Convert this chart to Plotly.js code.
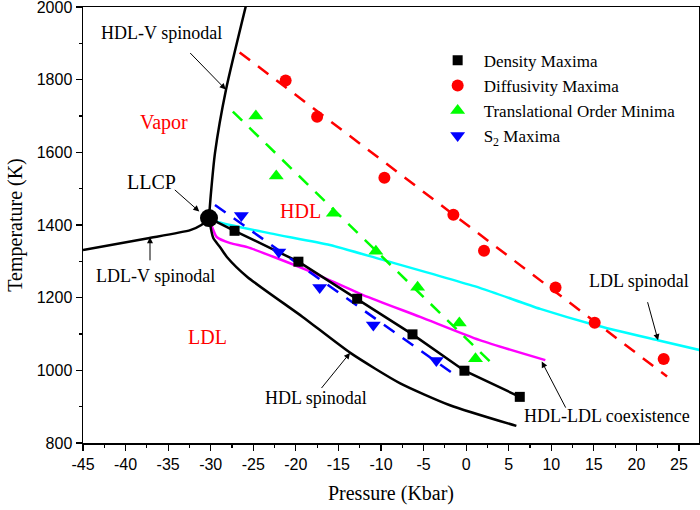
<!DOCTYPE html>
<html>
<head>
<meta charset="utf-8">
<script src="https://cdn.plot.ly/plotly-3.0.1.min.js"></script>
<style>html,body{margin:0;padding:0;background:#fff;}#chart{width:700px;height:510px;}</style>
</head>
<body>
<div id="chart"></div>
<script>
// ---- data (Pressure in Kbar, Temperature in K) ----
const densityP = [-27.2, -19.7, -12.8, -6.3, -0.2, 6.3];
const densityT = [1384, 1299, 1197, 1099, 999, 927];

const diffP = [-21.2, -17.5, -9.6, -1.5, 2.1, 10.5, 15.1, 23.2];
const diffT = [1798, 1698, 1530, 1428, 1329, 1228, 1131, 1031];

const transP = [-24.7, -22.3, -15.6, -10.6, -5.7, -0.8, 1.1];
const transT = [1700, 1535, 1432, 1328, 1229, 1130, 1032];

const s2P = [-26.4, -22.0, -17.2, -10.9, -3.5];
const s2T = [1426, 1326, 1228, 1125, 1027];

const llcpP = [-30.2];
const llcpT = [1419];

// linear fits (dashed)
const diffFitP = [-26.6, 23.6];
const diffFitT = [1875, 983];
const transFitP = [-27.4, 3.2];
const transFitT = [1712, 1015];
const s2FitP = [-29.5, -1.3];
const s2FitT = [1455, 987];

// curves
const hdlvP = [-30.2, -30.0, -29.5, -28.2, -25.85];
const hdlvT = [1419, 1480, 1598, 1773, 2005];

const ldlvP = [-45, -37.5, -32.4, -31.1, -30.6, -30.2];
const ldlvT = [1331, 1363, 1386, 1400, 1410, 1419];

const hdlsP = [-30.2, -29.7, -28.9, -28.1, -25.7, -19.2, -13.6, -7.8, -1.9, 5.9];
const hdlsT = [1419, 1364, 1339, 1312, 1257, 1147, 1048, 965, 904, 847];

const coexP = [-30.2, -29.7, -29.3, -27.7, -25.7, -18.7, -12.1, -5.4, 1.6, 9.3];
const coexT = [1419, 1386, 1367, 1350, 1339, 1276, 1207, 1147, 1083, 1028];

const ldlsP = [-30.2, -29.3, -23.0, -16.0, -10.1, 1.6, 8.7, 15.1, 22.5, 27.4];
const ldlsT = [1419, 1409, 1377, 1345, 1306, 1227, 1169, 1125, 1083, 1056];

const xTicks = [-45,-40,-35,-30,-25,-20,-15,-10,-5,0,5,10,15,20,25];
const yTicks = [800,1000,1200,1400,1600,1800,2000];

// ---- traces ----
const serif = 'Liberation Serif, Times New Roman, serif';
const sans = 'Liberation Sans, Arial, sans-serif';

const lineTrace = (x, y, color, extra) => Object.assign({
  x: x, y: y, mode: 'lines', type: 'scatter', showlegend: false, hoverinfo: 'skip',
  line: Object.assign({color: color, width: 2.5, shape: 'spline', smoothing: 0.6}, extra || {})
});

const traces = [
  lineTrace(ldlsP, ldlsT, '#00ffff'),
  lineTrace(coexP, coexT, '#ff00ff'),
  lineTrace(hdlsP, hdlsT, '#000000'),
  lineTrace(hdlvP, hdlvT, '#000000'),
  lineTrace(ldlvP, ldlvT, '#000000'),
  lineTrace(llcpP.concat(densityP), llcpT.concat(densityT), '#000000', {shape: 'linear'}),
  lineTrace(diffFitP, diffFitT, '#ff0000', {shape: 'linear', dash: '13px,10px'}),
  lineTrace(transFitP, transFitT, '#00ff00', {shape: 'linear', dash: '13px,10px'}),
  lineTrace(s2FitP, s2FitT, '#0000ff', {shape: 'linear', dash: '13px,10px'}),
  {x: densityP, y: densityT, mode: 'markers', type: 'scatter', name: 'Density Maxima',
   marker: {symbol: 'square', size: 10, color: '#000000'}},
  {x: diffP, y: diffT, mode: 'markers', type: 'scatter', name: 'Diffusivity Maxima',
   marker: {symbol: 'circle', size: 12, color: '#ff0000'}},
  {x: transP, y: transT, mode: 'markers', type: 'scatter', name: 'Translational Order Minima',
   marker: {symbol: 'triangle-up', size: 13, color: '#00ff00'}},
  {x: s2P, y: s2T, mode: 'markers', type: 'scatter', name: 'S<sub>2</sub> Maxima',
   marker: {symbol: 'triangle-down', size: 13, color: '#0000ff'}},
  {x: llcpP, y: llcpT, mode: 'markers', type: 'scatter', showlegend: false,
   marker: {symbol: 'circle', size: 18, color: '#000000'}}
];

// ---- annotations ----
const txt = (x, y, text, color, size) => ({
  x: x, y: y, xref: 'x', yref: 'y', text: text, showarrow: false,
  font: {family: serif, size: size || 18, color: color || '#000000'},
  xanchor: 'center', yanchor: 'middle'
});
const arr = (x, y, ax, ay) => ({
  x: x, y: y, xref: 'x', yref: 'y', ax: ax, ay: ay, text: ' ', showarrow: true,
  arrowhead: 2, arrowsize: 1.2, arrowwidth: 1, arrowcolor: '#000000',
  font: {size: 1}
});

const annotations = [
  txt(-35.76, 1928, 'HDL-V spinodal'),
  txt(-35.49, 1683, 'Vapor', '#ff0000', 20),
  txt(-36.93, 1518, 'LLCP', '#000000', 20),
  txt(-19.4, 1438, 'HDL', '#ff0000', 20),
  txt(-36.45, 1260, 'LDL-V spinodal'),
  txt(-30.38, 1092, 'LDL', '#ff0000', 20),
  txt(-17.66, 924, 'HDL spinodal'),
  txt(16.6, 874, 'HDL-LDL coexistence'),
  txt(20.3, 1246, 'LDL spinodal'),
  arr(-28.24, 1773, -37, -38),
  arr(-31.34, 1437, -26, -23),
  arr(-37.13, 1366, 0, 25),
  arr(-13.64, 1048, -30, 37),
  arr(8.88, 1024, 25, 48),
  arr(22.54, 1083, -11, -40)
];

const layout = {
  width: 700, height: 510,
  margin: {l: 83, r: 1, t: 7, b: 67},
  paper_bgcolor: '#ffffff', plot_bgcolor: '#ffffff',
  showlegend: true,
  legend: {x: 0.566, y: 0.918, xanchor: 'left', yanchor: 'top', itemwidth: 42,
           font: {family: serif, size: 17, color: '#000000'},
           bgcolor: 'rgba(0,0,0,0)', borderwidth: 0, tracegroupgap: 0},
  xaxis: {
    range: [-45, 27.35], tickvals: xTicks, ticktext: xTicks.map(String),
    ticks: 'outside', ticklen: 6, tickwidth: 1.2, tickcolor: '#000',
    ticklabeloverflow: 'allow',
    minor: {dtick: 2.5, tick0: -45, ticks: 'outside', ticklen: 3, tickwidth: 1.2, tickcolor: '#000', showgrid: false},
    showline: true, linecolor: '#000', linewidth: 1.5, mirror: true,
    showgrid: false, zeroline: false,
    tickfont: {family: sans, size: 16, color: '#000'},
    title: {text: 'Pressure (Kbar)', font: {family: serif, size: 20, color: '#000'}, standoff: 14}
  },
  yaxis: {
    range: [800, 2000], tickvals: yTicks, ticktext: yTicks.map(String),
    ticks: 'outside', ticklen: 6, tickwidth: 1.2, tickcolor: '#000',
    ticklabeloverflow: 'allow',
    minor: {dtick: 100, tick0: 800, ticks: 'outside', ticklen: 3, tickwidth: 1.2, tickcolor: '#000', showgrid: false},
    showline: true, linecolor: '#000', linewidth: 1.5, mirror: true,
    showgrid: false, zeroline: false,
    tickfont: {family: sans, size: 16, color: '#000'},
    title: {text: 'Temperature (K)', font: {family: serif, size: 20, color: '#000'}, standoff: 8}
  },
  annotations: annotations
};

Plotly.newPlot('chart', traces, layout, {displayModeBar: false, staticPlot: true});
</script>
</body>
</html>
